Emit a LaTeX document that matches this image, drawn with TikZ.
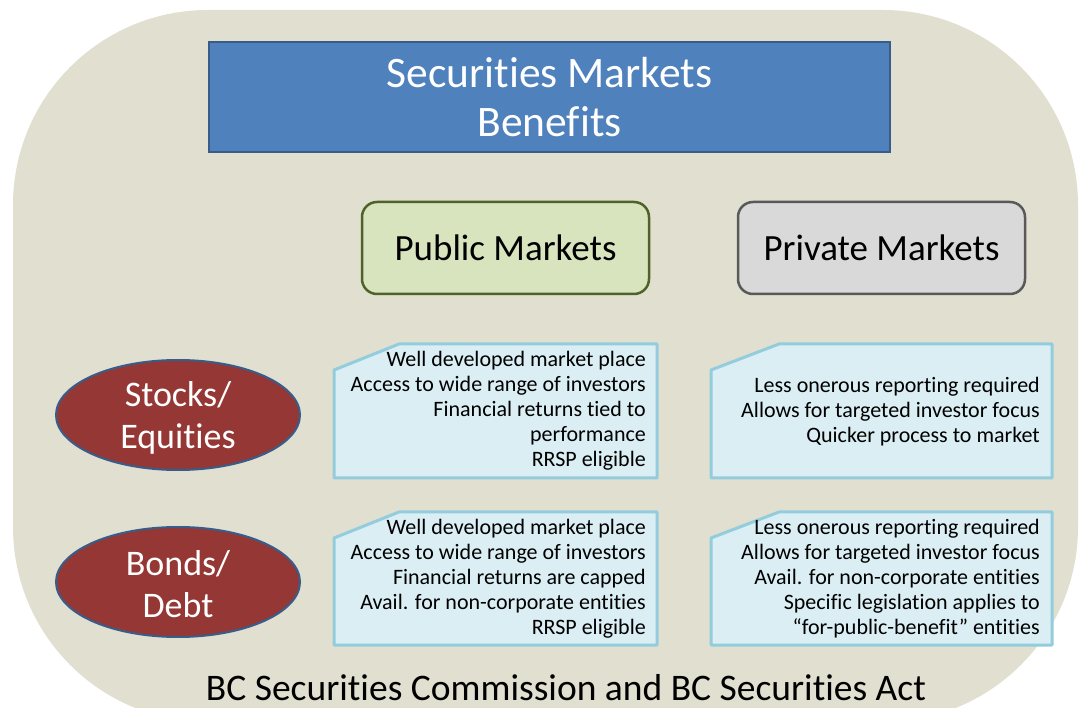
\documentclass[tikz,border=0pt]{standalone}
\usepackage{fontspec}
\setmainfont{Carlito}[Ligatures=NoCommon]
\usetikzlibrary{shapes.geometric}
\definecolor{tanbg}{RGB}{225,223,207}
\definecolor{titlefill}{RGB}{79,129,189}
\definecolor{titleline}{RGB}{56,93,138}
\definecolor{pubfill}{RGB}{215,228,189}
\definecolor{publine}{RGB}{79,98,40}
\definecolor{privfill}{RGB}{217,217,217}
\definecolor{privline}{RGB}{89,89,89}
\definecolor{ellfill}{RGB}{149,55,53}
\definecolor{snipfill}{RGB}{218,238,243}
\definecolor{snipline}{RGB}{147,205,221}
\tikzset{
  titlebox/.style={draw=titleline, fill=titlefill, line width=2.5pt, minimum width=681pt, minimum height=110pt, inner sep=0pt, text=white, align=center, font=\fontsize{43.5}{49}\selectfont},
  mktbox/.style={rounded corners=15pt, line width=2.5pt, minimum width=287pt, minimum height=92pt, inner sep=0pt, font=\fontsize{37}{44}\selectfont},
  catell/.style={ellipse, draw=titleline, fill=ellfill, line width=2pt, minimum width=244pt, minimum height=110pt, inner sep=0pt},
  elltext/.style={inner sep=0pt, text=white, align=center, font=\fontsize{36}{42}\selectfont},
  snipshape/.style={fill=snipfill, draw=snipline, line width=3pt, line join=round},
  sniptext/.style={anchor=east, align=right, inner sep=0pt, font=\fontsize{22}{25}\selectfont},
}
\begin{document}
\begin{tikzpicture}[x=1pt,y=-1pt]
\useasboundingbox (0,0) rectangle (1080,708);
\clip (0,0) rectangle (1080,708);
\fill[tanbg, rounded corners=195pt] (13,10) rectangle (1078,722);

\node[titlebox] (title) at (549.5,97) {Securities Markets\\Benefits};

\node[mktbox, draw=publine, fill=pubfill] (pub) at (505.5,248) {Public Markets};
\node[mktbox, draw=privline, fill=privfill] (priv) at (881.5,248) {Private Markets};

\node[catell] (stocks) at (178,415) {};
\node[elltext] (stockstxt) at ([yshift=-3pt]stocks.center) {Stocks/\\Equities};
\node[catell] (bonds) at (178,582) {};
\node[elltext] (bondstxt) at ([yshift=-2pt]bonds.center) {Bonds/\\Debt};

% snip boxes
\path[snipshape] (334,478) -- (334,370) -- (399,344) -- (657,344) -- (657,478) -- cycle;
\path[snipshape] (711,478) -- (711,370) -- (779,344) -- (1052,344) -- (1052,478) -- cycle;
\path[snipshape] (334,645) -- (334,538) -- (399,512) -- (657,512) -- (657,645) -- cycle;
\path[snipshape] (711,645) -- (711,538) -- (779,512) -- (1052,512) -- (1052,645) -- cycle;

\node[sniptext] (pubstocks) at (646,411) {Well developed market place\\Access to wide range of investors\\Financial returns tied to\\performance\\RRSP eligible};
\node[sniptext] (privstocks) at (1040,411.5) {Less onerous reporting required\\Allows for targeted investor focus\\Quicker process to market};
\node[sniptext] (pubbonds) at (646,578.5) {Well developed market place\\Access to wide range of investors\\Financial returns are capped\\Avail. for non-corporate entities\\RRSP eligible};
\node[sniptext] (privbonds) at (1040,578.5) {Less onerous reporting required\\Allows for targeted investor focus\\Avail. for non-corporate entities\\Specific legislation applies to\\“for-public-benefit” entities};

\node[inner sep=0pt, font=\fontsize{37.5}{44}\selectfont] (footer) at (566,688) {BC Securities Commission and BC Securities Act};
\end{tikzpicture}
\end{document}
